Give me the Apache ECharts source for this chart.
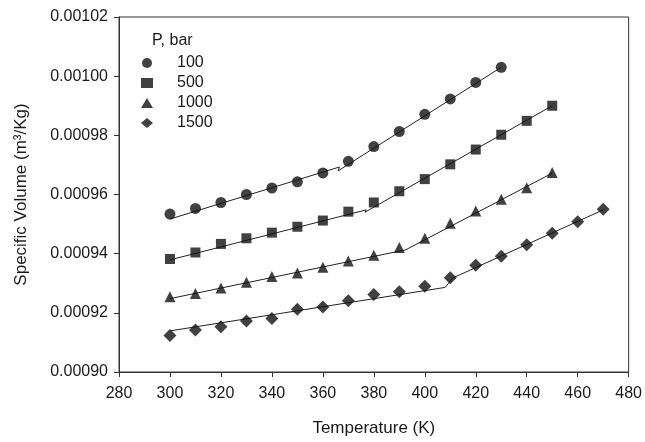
<!DOCTYPE html>
<html>
<head>
<meta charset="utf-8">
<script src="https://cdn.jsdelivr.net/npm/echarts@6/dist/echarts.min.js"></script>
<style>
  html, body { margin: 0; padding: 0; background: #fff; }
  #chart { width: 645px; height: 442px; }
</style>
</head>
<body>
<div id="chart"></div>
<script>
// 温度 (K)
const temps100 = [300, 310, 320, 330, 340, 350, 360, 370, 380, 390, 400, 410, 420, 430]
const temps500 = [300, 310, 320, 330, 340, 350, 360, 370, 380, 390, 400, 410, 420, 430, 440, 450]
const temps1000 = [300, 310, 320, 330, 340, 350, 360, 370, 380, 390, 400, 410, 420, 430, 440, 450]
const temps1500 = [300, 310, 320, 330, 340, 350, 360, 370, 380, 390, 400, 410, 420, 430, 440, 450, 460, 470]

// 比容 (m3/kg) 实验点
const vol100 = [0.0009534, 0.0009553, 0.0009573, 0.0009600, 0.0009622, 0.0009643, 0.0009673, 0.0009712, 0.0009762, 0.0009813, 0.0009871, 0.0009923, 0.0009979, 0.0010030]
const vol500 = [0.0009382, 0.0009404, 0.0009433, 0.0009452, 0.0009471, 0.0009491, 0.0009512, 0.0009542, 0.0009573, 0.0009611, 0.0009652, 0.0009702, 0.0009752, 0.0009802, 0.0009849, 0.0009900]
const vol1000 = [0.0009254, 0.0009265, 0.0009284, 0.0009303, 0.0009323, 0.0009335, 0.0009354, 0.0009375, 0.0009395, 0.0009421, 0.0009452, 0.0009503, 0.0009544, 0.0009584, 0.0009623, 0.0009674]
const vol1500 = [0.0009123, 0.0009142, 0.0009153, 0.0009172, 0.0009181, 0.0009212, 0.0009220, 0.0009241, 0.0009262, 0.0009271, 0.0009290, 0.0009319, 0.0009361, 0.0009391, 0.0009430, 0.0009469, 0.0009508, 0.0009550]

// 拟合线 (分段)
const fit100 = [[300, 0.0009517], [366.5, 0.0009693], [366, 0.0009680], [430, 0.0010030]]
const fit500 = [[300, 0.0009379], [377, 0.0009548], [376.5, 0.0009540], [450, 0.0009900]]
const fit1000 = [[300, 0.0009248], [392.5, 0.0009413], [450, 0.0009672]]
const fit1500 = [[300, 0.0009139], [408, 0.0009286], [411, 0.0009318], [470, 0.0009548]]

const pLabels = ['100', '500', '1000', '1500']
const xTicks = { min: 280, max: 480, step: 20 }
const yTicks = { min: 0.00090, max: 0.00102, step: 0.00002 }

const ink = '#111'
const chart = echarts.init(document.getElementById('chart'))

function pts(t, v) {
  return t.map((x, i) => [x, v[i]])
}

function scatter(name, symbol, size, data) {
  return {
    name: name,
    type: 'scatter',
    symbol: symbol,
    symbolSize: size,
    itemStyle: { color: ink },
    data: data,
    z: 3
  }
}

function fitLine(data) {
  return {
    type: 'line',
    data: data,
    symbol: 'none',
    lineStyle: { color: '#222', width: 1 },
    silent: true,
    z: 2
  }
}

const font = 'Liberation Sans, Arial, sans-serif'

const option = {
  animation: false,
  textStyle: { fontFamily: font },
  title: {
    text: 'P, bar',
    left: 147,
    top: 28,
    textStyle: { fontSize: 16, fontWeight: 'normal', color: '#1a1a1a', fontFamily: font }
  },
  legend: {
    orient: 'vertical',
    left: 136,
    top: 50,
    itemWidth: 12,
    itemHeight: 10,
    itemGap: 4,
    data: [
      { name: pLabels[0], icon: 'circle' },
      { name: pLabels[1], icon: 'rect' },
      { name: pLabels[2], icon: 'triangle' },
      { name: pLabels[3], icon: 'diamond' }
    ],
    textStyle: { fontSize: 16, color: '#1a1a1a', padding: [0, 0, 0, 19], fontFamily: font },
    itemStyle: { color: ink }
  },
  grid: {
    left: 119,
    right: 14,
    top: 17,
    bottom: 68,
    show: true,
    borderColor: '#333',
    borderWidth: 1
  },
  xAxis: {
    type: 'value',
    min: xTicks.min,
    max: xTicks.max,
    interval: xTicks.step,
    name: 'Temperature (K)',
    nameLocation: 'middle',
    nameGap: 48,
    nameTextStyle: { fontSize: 17, color: '#1a1a1a', fontFamily: font },
    axisLine: { show: true, lineStyle: { color: '#333', width: 1 } },
    axisTick: { show: true, inside: false, length: 5, lineStyle: { color: '#333' } },
    axisLabel: { fontSize: 16, color: '#1a1a1a', margin: 14, fontFamily: font },
    splitLine: { show: false }
  },
  yAxis: {
    type: 'value',
    min: yTicks.min,
    max: yTicks.max,
    interval: yTicks.step,
    name: 'Specific Volume (m\u00b3/Kg)',
    nameLocation: 'middle',
    nameGap: 89,
    nameTextStyle: { fontSize: 17, color: '#1a1a1a', fontFamily: font },
    axisLine: { show: true, lineStyle: { color: '#333', width: 1 } },
    axisTick: { show: true, inside: false, length: 5, lineStyle: { color: '#333' } },
    axisLabel: {
      fontSize: 16,
      color: '#1a1a1a',
      margin: 11,
      fontFamily: font,
      formatter: function (v) { return v.toFixed(5) }
    },
    splitLine: { show: false }
  },
  series: [
    fitLine(fit100),
    fitLine(fit500),
    fitLine(fit1000),
    fitLine(fit1500),
    scatter(pLabels[0], 'circle', 11, pts(temps100, vol100)),
    scatter(pLabels[1], 'rect', 10, pts(temps500, vol500)),
    scatter(pLabels[2], 'triangle', 11, pts(temps1000, vol1000)),
    scatter(pLabels[3], 'diamond', 13, pts(temps1500, vol1500))
  ]
}

chart.setOption(option)
</script>
</body>
</html>
